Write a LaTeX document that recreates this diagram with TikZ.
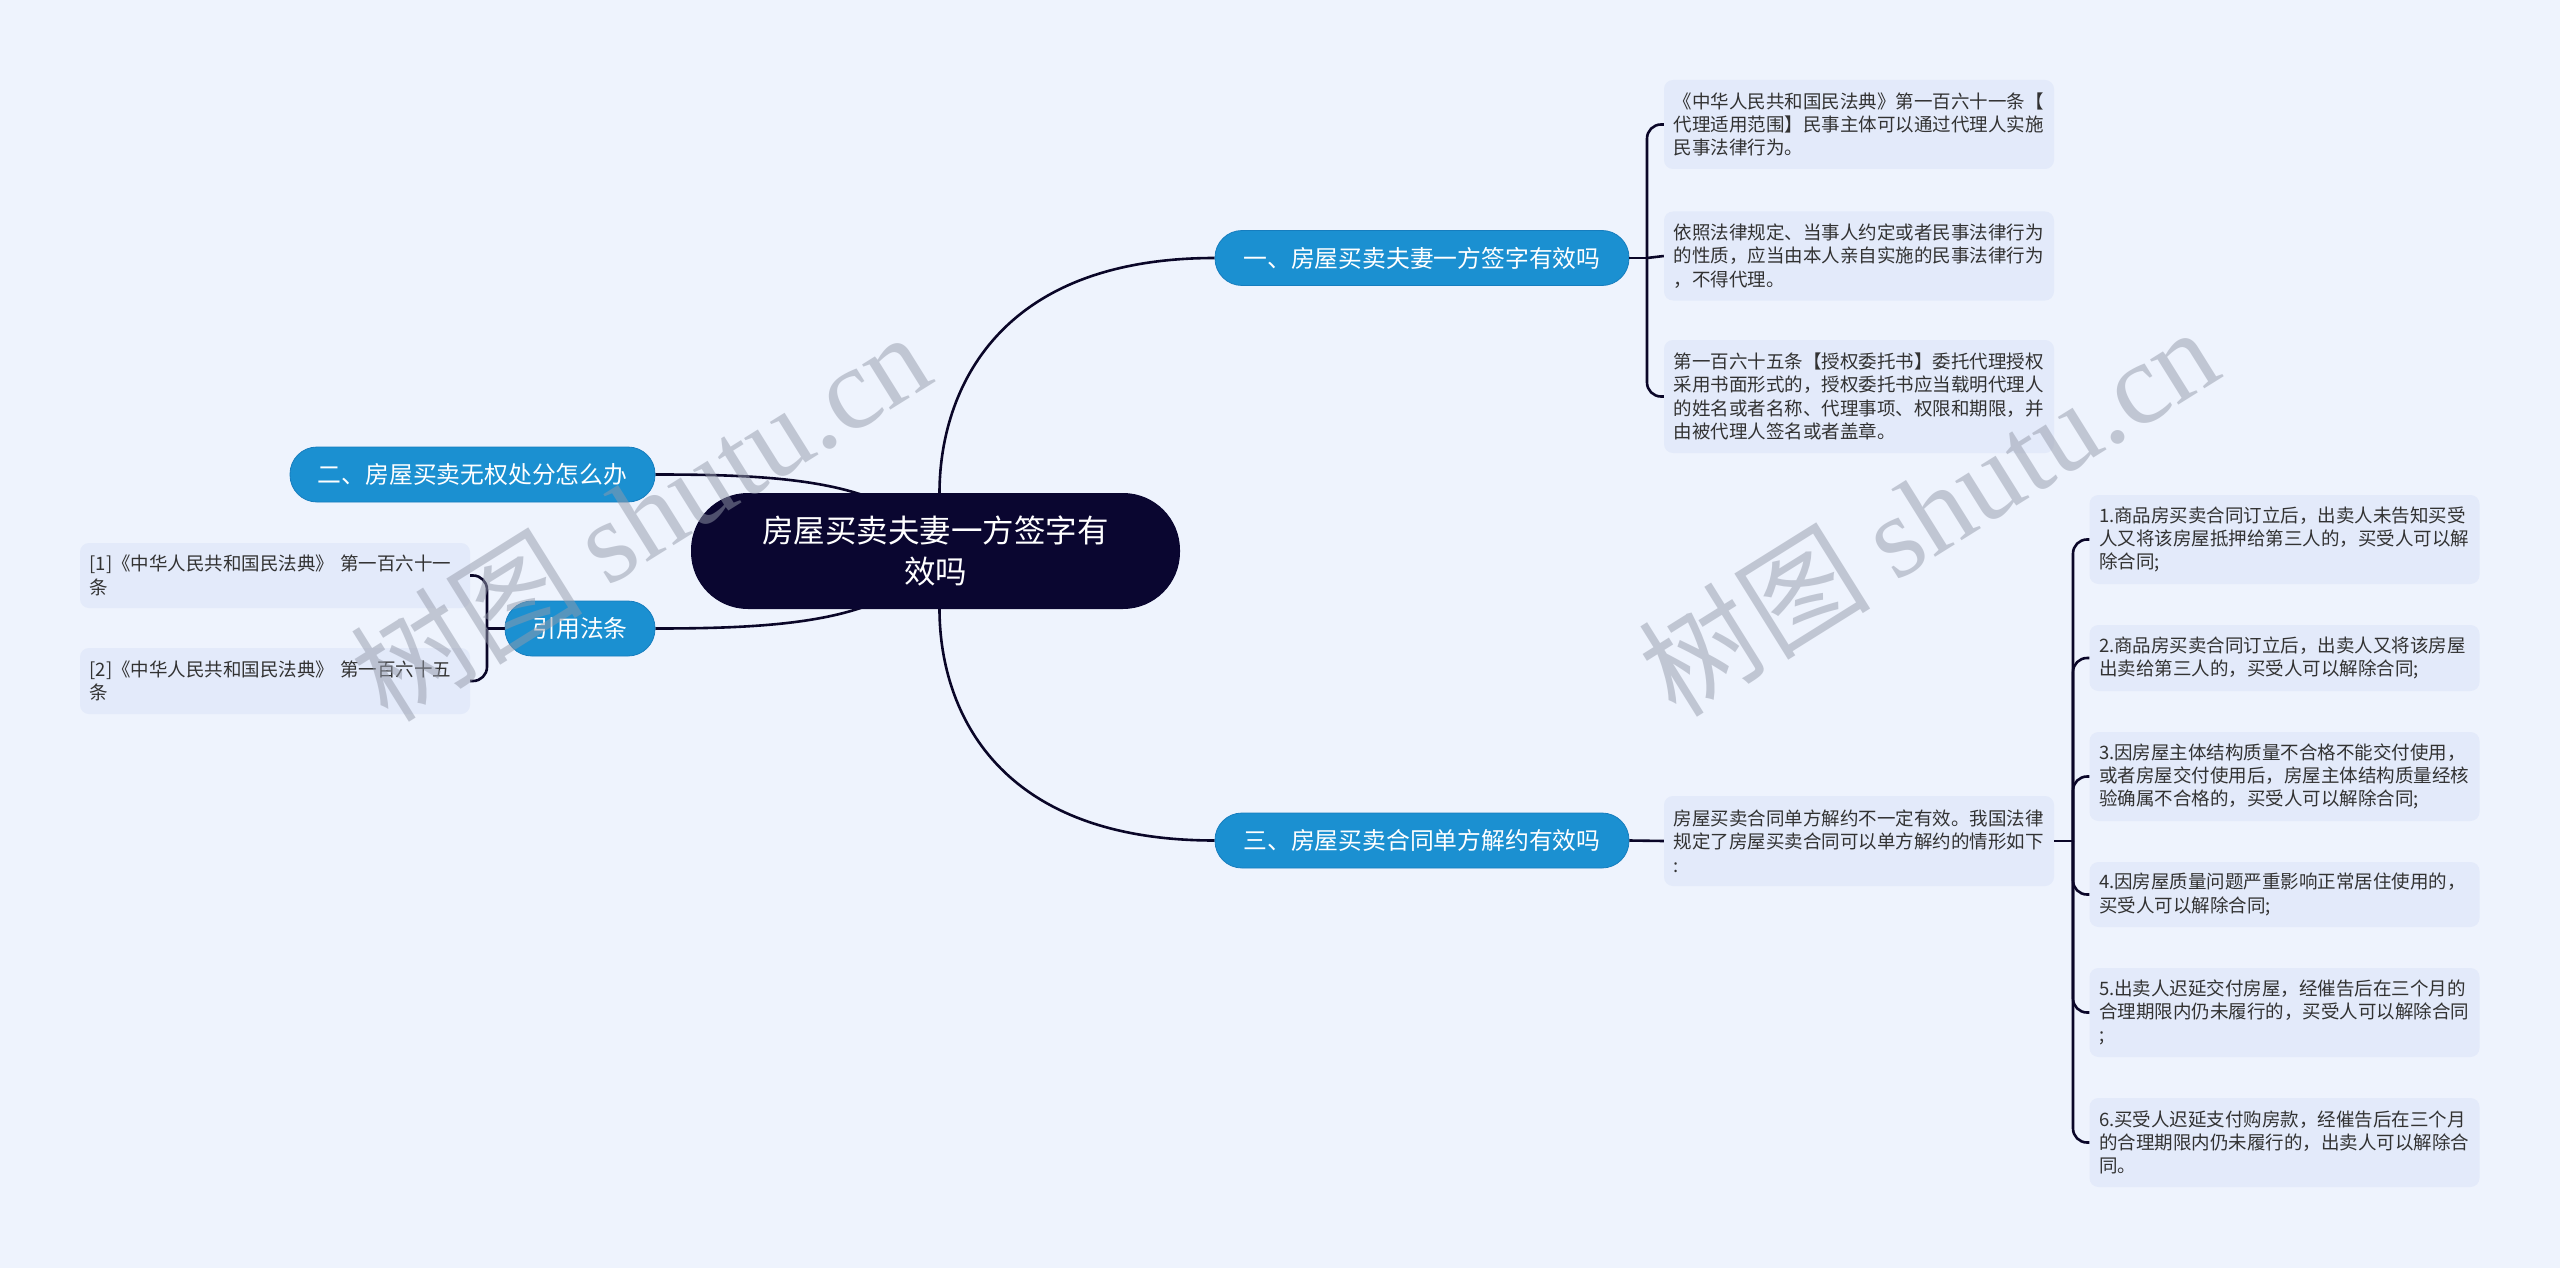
\documentclass[tikz,border=0pt]{standalone}
\usepackage{fontspec}
\setmainfont{Noto Sans CJK SC}
\newfontfamily\wmserif{Liberation Serif}
\newfontfamily\wmcjk{Noto Sans CJK SC}
\usetikzlibrary{calc}
\pgfdeclarelayer{behind}
\pgfsetlayers{behind,main}
\definecolor{bg}{RGB}{238,243,253}
\definecolor{leaffill}{RGB}{227,234,250}
\definecolor{branchfill}{RGB}{27,144,209}
\definecolor{branchline}{RGB}{22,125,190}
\definecolor{rootfill}{RGB}{10,6,48}
\definecolor{linec}{RGB}{10,6,40}
\definecolor{leaftext}{RGB}{50,50,50}
\definecolor{wm}{RGB}{148,154,170}
\begin{document}
\begin{tikzpicture}[x=1pt,y=-1pt,
  conn/.style={draw=linec, line width=2.6pt},
  brk/.style={conn, rounded corners=14pt},
  rootbox/.style={fill=rootfill, text=white, rounded corners=57pt, minimum width=489pt, minimum height=116pt, align=center, font=\fontsize{31.5}{41}\selectfont, inner sep=0pt},
  branchbox/.style={fill=branchfill, draw=branchline, line width=0.8pt, text=white, rounded corners=27pt, minimum height=55pt, inner sep=0pt, font=\fontsize{23.8}{28}\selectfont},
  leafbox/.style={fill=leaffill, rounded corners=9pt, text=leaftext, align=left, inner xsep=9.5pt, inner ysep=0pt, text width=371pt, font=\fontsize{18.5}{23.3}\selectfont},
  wmark/.style={text=wm, opacity=0.5, rotate=32, inner sep=0pt}
]
\begin{pgfonlayer}{behind}
\useasboundingbox (0,0) rectangle (2560,1268);
\fill[bg] (0,0) rectangle (2560,1268);
\end{pgfonlayer}

% nodes
\node[rootbox] (root) at (935.5,551) {房屋买卖夫妻一方签字有\\效吗};
\node[branchbox, minimum width=414pt] (b1) at (1422,258) {一、房屋买卖夫妻一方签字有效吗};
\node[branchbox, minimum width=365pt] (b2) at (472.5,474.5) {二、房屋买卖无权处分怎么办};
\node[branchbox, minimum width=150pt] (ref) at (580,628.5) {引用法条};
\node[branchbox, minimum width=414pt] (b3) at (1422,840.5) {三、房屋买卖合同单方解约有效吗};

\node[leafbox, minimum height=65pt] (l1) at (275,575.5) {[1]《中华人民共和国民法典》 第一百六十一\\条};
\node[leafbox, minimum height=66pt] (l2) at (275,681) {[2]《中华人民共和国民法典》 第一百六十五\\条};

\node[leafbox, minimum height=89pt] (c1) at (1859,124.5) {《中华人民共和国民法典》第一百六十一条【\\代理适用范围】民事主体可以通过代理人实施\\民事法律行为。};
\node[leafbox, minimum height=89pt] (c2) at (1859,256) {依照法律规定、当事人约定或者民事法律行为\\的性质，应当由本人亲自实施的民事法律行为\\，不得代理。};
\node[leafbox, minimum height=113pt] (c3) at (1859,396.5) {第一百六十五条【授权委托书】委托代理授权\\采用书面形式的，授权委托书应当载明代理人\\的姓名或者名称、代理事项、权限和期限，并\\由被代理人签名或者盖章。};

\node[leafbox, minimum height=90pt] (c31) at (1859,841) {房屋买卖合同单方解约不一定有效。我国法律\\规定了房屋买卖合同可以单方解约的情形如下\\:};

\node[leafbox, minimum height=89pt] (i1) at (2284.5,539.5) {1.商品房买卖合同订立后，出卖人未告知买受\\人又将该房屋抵押给第三人的，买受人可以解\\除合同;};
\node[leafbox, minimum height=66pt] (i2) at (2284.5,658) {2.商品房买卖合同订立后，出卖人又将该房屋\\出卖给第三人的，买受人可以解除合同;};
\node[leafbox, minimum height=89pt] (i3) at (2284.5,776.5) {3.因房屋主体结构质量不合格不能交付使用，\\或者房屋交付使用后，房屋主体结构质量经核\\验确属不合格的，买受人可以解除合同;};
\node[leafbox, minimum height=65pt] (i4) at (2284.5,894.5) {4.因房屋质量问题严重影响正常居住使用的，\\买受人可以解除合同;};
\node[leafbox, minimum height=89pt] (i5) at (2284.5,1012.5) {5.出卖人迟延交付房屋，经催告后在三个月的\\合理期限内仍未履行的，买受人可以解除合同\\;};
\node[leafbox, minimum height=89pt] (i6) at (2284.5,1142.5) {6.买受人迟延支付购房款，经催告后在三个月\\的合理期限内仍未履行的，出卖人可以解除合\\同。};

% main curves (behind the root)
\begin{pgfonlayer}{behind}
\draw[conn] ([xshift=4pt]root.north) .. controls +(0,-93) and +(-225,0) .. (b1.west);
\draw[conn] ([xshift=4pt]root.south) .. controls +(0,93) and +(-225,0) .. (b3.west);
\draw[conn] (b2.east) .. controls +(125,0) and (900,480) .. (root.center);
\draw[conn] (ref.east) .. controls +(125,0) and (900,622) .. (root.center);
\end{pgfonlayer}

% brackets
\coordinate (s1) at (1647,258);
\draw[conn] (b1.east) -- (s1);
\draw[brk] (s1) |- (c1.west);
\draw[conn] (s1) -- (c2.west);
\draw[brk] (s1) |- (c3.west);

\coordinate (s2) at (487,628.5);
\draw[conn] (ref.west) -- (s2);
\draw[brk] (s2) |- (l1.east);
\draw[brk] (s2) |- (l2.east);

\draw[conn] (b3.east) -- (c31.west);
\coordinate (s3) at (2073,841);
\draw[conn] (c31.east) -- (s3);
\draw[brk] (s3) |- (i1.west);
\draw[brk] (s3) |- (i2.west);
\draw[brk] (s3) |- (i3.west);
\draw[brk] (s3) |- (i4.west);
\draw[brk] (s3) |- (i5.west);
\draw[brk] (s3) |- (i6.west);

% watermarks
\node[wmark] (wm1) at (640,515) {\fontsize{116}{120}\selectfont\wmcjk 树图 \wmserif shutu.cn};
\node[wmark] (wm2) at (1928,510) {\fontsize{116}{120}\selectfont\wmcjk 树图 \wmserif shutu.cn};
\end{tikzpicture}
\end{document}
